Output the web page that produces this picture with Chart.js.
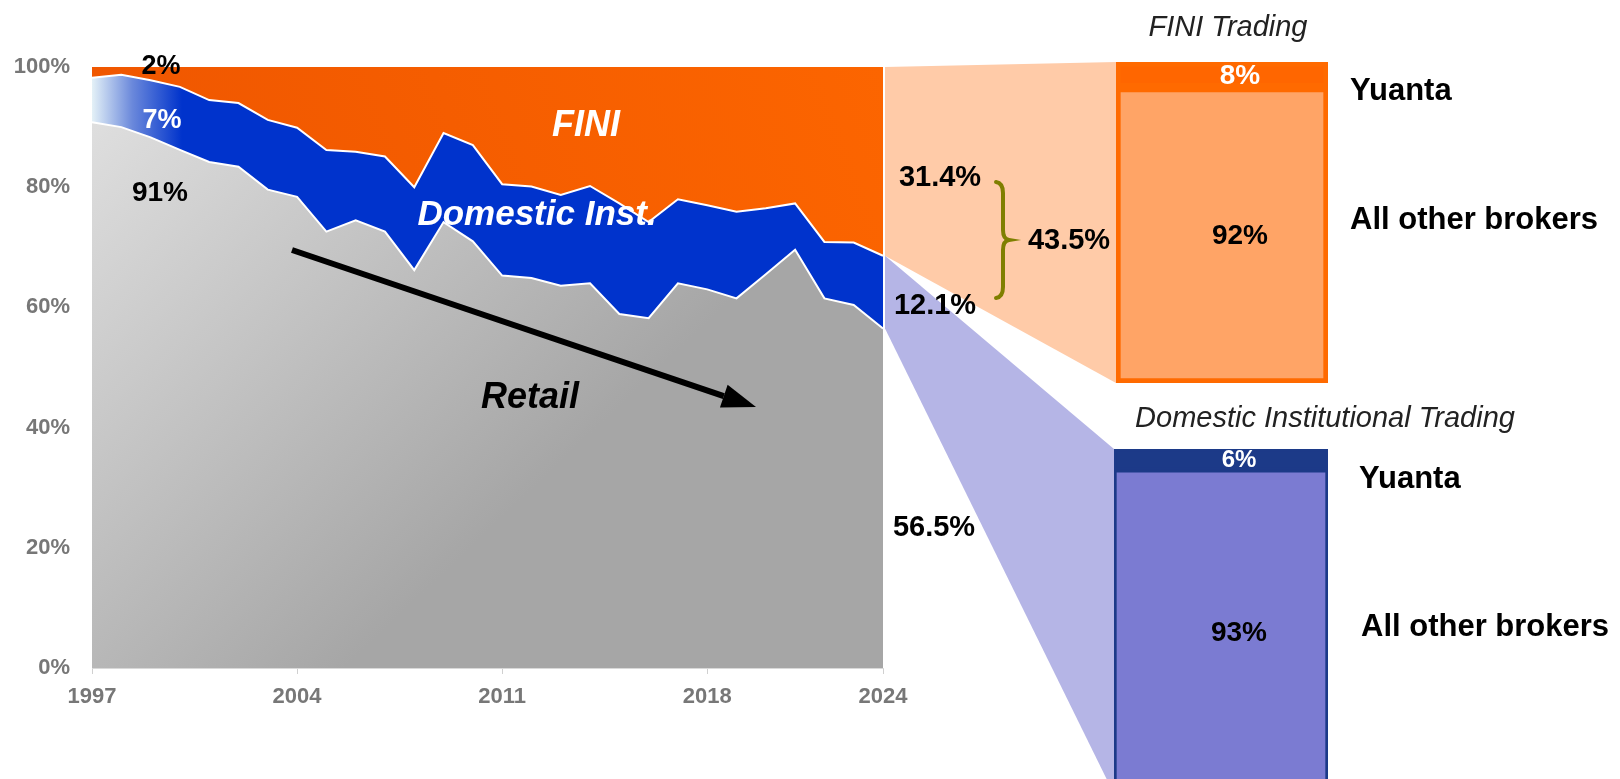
<!DOCTYPE html>
<html>
<head>
<meta charset="utf-8">
<script src="https://cdn.jsdelivr.net/npm/chart.js@4.4.1/dist/chart.umd.min.js"></script>
<style>
  html, body { margin: 0; padding: 0; background: #fff; overflow: hidden; }
  #wrap { position: relative; width: 1620px; height: 779px; }
  canvas { position: absolute; }
  #main { left: 0; top: 0; }
  #finiBox { left: 1116px; top: 62px; }
  #domBox { left: 1114px; top: 449px; }
</style>
</head>
<body>
<div id="wrap">
  <canvas id="main" width="1620" height="779"></canvas>
  <canvas id="finiBox" width="212" height="321"></canvas>
  <canvas id="domBox" width="214" height="345"></canvas>
</div>
<script>
// market turnover share by investor type, 1997-2024 (%)
const years = ['1997', '1998', '1999', '2000', '2001', '2002', '2003', '2004', '2005', '2006',
  '2007', '2008', '2009', '2010', '2011', '2012', '2013', '2014', '2015', '2016',
  '2017', '2018', '2019', '2020', '2021', '2022', '2023', '2024'];
const retail = [90.8, 90.0, 88.3, 86.2, 84.2, 83.4, 79.6, 78.4, 72.6, 74.5,
  72.6, 66.2, 74.2, 71.0, 65.3, 64.9, 63.6, 64.0, 58.9, 58.2,
  64.0, 63.0, 61.5, 65.5, 69.6, 61.5, 60.4, 56.5];
const domestic = [7.4, 8.7, 9.5, 10.5, 10.3, 10.6, 11.6, 11.5, 13.6, 11.4,
  12.5, 13.8, 14.8, 16.0, 15.2, 15.2, 15.1, 16.2, 18.4, 16.0,
  14.0, 14.0, 14.4, 11.0, 7.7, 9.4, 10.4, 12.1];
const fini = [1.8, 1.3, 2.2, 3.3, 5.5, 6.0, 8.8, 10.1, 13.8, 14.1,
  14.9, 20.0, 11.0, 13.0, 19.5, 19.9, 21.3, 19.8, 22.7, 25.8,
  22.0, 23.0, 24.1, 23.5, 22.7, 29.1, 29.2, 31.4];
const yTicks = [0, 20, 40, 60, 80, 100];
const shownYears = ['1997', '2004', '2011', '2018', '2024'];

// broker split of 2024 trading
const brokers = ['All other brokers', 'Yuanta'];
const finiShares = [92, 8];
const domShares = [93, 6];

const FONT = "'Liberation Sans', Arial, sans-serif";
Chart.defaults.font.family = FONT;

function retailFill(ctx) {
  const a = ctx.chart.chartArea;
  if (!a) return '#b0b0b0';
  const g = ctx.chart.ctx.createLinearGradient(a.left, a.top + 60, a.left + 390, a.top + 470);
  g.addColorStop(0, '#dedede');
  g.addColorStop(1, '#a6a6a6');
  return g;
}
function domesticFill(ctx) {
  const a = ctx.chart.chartArea;
  if (!a) return '#0033cc';
  const g = ctx.chart.ctx.createLinearGradient(a.left, 0, a.left + 90, 0);
  g.addColorStop(0, '#e4f1f7');
  g.addColorStop(0.45, '#6a88db');
  g.addColorStop(1, '#0033cc');
  return g;
}
function finiFill(ctx) {
  const a = ctx.chart.chartArea;
  if (!a) return '#f55b00';
  const g = ctx.chart.ctx.createLinearGradient(a.left, a.top + 300, a.right, a.top);
  g.addColorStop(0, '#ee5500');
  g.addColorStop(1, '#fc6500');
  return g;
}

// value labels inside the broker boxes
const shareLabels = {
  id: 'shareLabels',
  afterDatasetsDraw(chart) {
    const c = chart.ctx;
    c.save();
    c.textAlign = 'center';
    c.textBaseline = 'middle';
    chart.data.datasets.forEach((ds, i) => {
      const bar = chart.getDatasetMeta(i).data[0];
      const h = bar.base - bar.y;
      c.font = 'bold ' + Math.min(28, Math.round(h) + 3) + 'px ' + FONT;
      c.fillStyle = ds.labelColor;
      c.fillText(ds.data[0] + '%', bar.x + 18, (bar.y + bar.base) / 2 + 1);
    });
    c.restore();
  }
};

function boxChart(id, shares, fills, edge, edgeWidth, textColors) {
  const total = shares.reduce((s, v) => s + v, 0);
  return new Chart(document.getElementById(id), {
    type: 'bar',
    data: {
      labels: [''],
      datasets: shares.map((v, i) => ({
        label: brokers[i],
        data: [v],
        backgroundColor: fills[i],
        borderColor: edge,
        borderWidth: edgeWidth,
        borderSkipped: false,
        barPercentage: 1,
        categoryPercentage: 1,
        labelColor: textColors[i]
      }))
    },
    options: {
      responsive: false,
      animation: false,
      events: [],
      layout: { padding: 0 },
      plugins: { legend: { display: false }, tooltip: { enabled: false } },
      scales: {
        x: { stacked: true, display: false },
        y: { stacked: true, display: false, min: 0, max: total }
      }
    },
    plugins: [shareLabels]
  });
}

const finiChart = boxChart('finiBox', finiShares, ['#ffa466', '#ff6600'], '#ff6a00', 5, ['#000', '#fff']);
const domChart = boxChart('domBox', domShares, ['#7b7bd2', '#1c3a88'], '#1c3a88', 3, ['#000', '#fff']);

function boxRect(chart) {
  const bottom = chart.getDatasetMeta(0).data[0];
  const top = chart.getDatasetMeta(chart.data.datasets.length - 1).data[0];
  const ox = chart.canvas.offsetLeft, oy = chart.canvas.offsetTop;
  return {
    left: ox + bottom.x - bottom.width / 2,
    top: oy + top.y,
    bottom: oy + bottom.base
  };
}

function text(c, str, x, y, font, color, align) {
  c.font = font;
  c.fillStyle = color;
  c.textAlign = align || 'center';
  c.textBaseline = 'alphabetic';
  c.fillText(str, x, y);
}

const overlay = {
  id: 'overlay',
  beforeDatasetsDraw(chart) {
    const c = chart.ctx;
    const a = chart.chartArea;
    const last = years.length - 1;
    const retailTop = chart.getDatasetMeta(0).data[last].y;
    const domTop = chart.getDatasetMeta(1).data[last].y;
    const finiTop = chart.getDatasetMeta(2).data[last].y;
    const fb = boxRect(finiChart);
    const db = boxRect(domChart);
    const x0 = a.right + 2;
    c.save();
    // FINI funnel
    c.fillStyle = '#ffcba8';
    c.beginPath();
    c.moveTo(x0, finiTop);
    c.lineTo(fb.left, fb.top);
    c.lineTo(fb.left, fb.bottom);
    c.lineTo(x0, domTop);
    c.closePath();
    c.fill();
    // domestic funnel
    c.fillStyle = '#b5b5e6';
    c.beginPath();
    c.moveTo(x0, domTop);
    c.lineTo(db.left, db.top);
    c.lineTo(db.left, db.bottom);
    c.lineTo(x0, retailTop);
    c.closePath();
    c.fill();
    c.restore();
  },
  afterDraw(chart) {
    const c = chart.ctx;
    c.save();
    // series labels
    text(c, '2%', 161, 74, 'bold 27px ' + FONT, '#000');
    text(c, '7%', 162, 128, 'bold 27px ' + FONT, '#fff');
    text(c, '91%', 160, 201, 'bold 28px ' + FONT, '#000');
    text(c, 'FINI', 586, 136, 'italic bold 36px ' + FONT, '#fff');
    text(c, 'Domestic Inst.', 537, 225, 'italic bold 35px ' + FONT, '#fff');
    text(c, 'Retail', 530, 408, 'italic bold 36px ' + FONT, '#000');

    // retail trend arrow
    const sx = 292, sy = 250, ex = 756, ey = 407;
    const ang = Math.atan2(ey - sy, ex - sx);
    const hl = 34, hw = 12;
    const bx = ex - hl * Math.cos(ang), by = ey - hl * Math.sin(ang);
    c.strokeStyle = '#000';
    c.lineWidth = 6;
    c.beginPath();
    c.moveTo(sx, sy);
    c.lineTo(bx, by);
    c.stroke();
    c.fillStyle = '#000';
    c.beginPath();
    c.moveTo(ex, ey);
    c.lineTo(bx - hw * Math.sin(ang), by + hw * Math.cos(ang));
    c.lineTo(bx + hw * Math.sin(ang), by - hw * Math.cos(ang));
    c.closePath();
    c.fill();

    // 2024 shares
    const f = 'bold 29px ' + FONT;
    text(c, '31.4%', 940, 186, f, '#000');
    text(c, '12.1%', 935, 314, f, '#000');
    text(c, '56.5%', 934, 536, f, '#000');
    text(c, '43.5%', 1069, 249, f, '#000');

    // brace
    c.strokeStyle = '#7f7f00';
    c.lineWidth = 4;
    c.lineCap = 'round';
    c.beginPath();
    c.moveTo(996, 182);
    c.quadraticCurveTo(1003, 183, 1003, 193);
    c.lineTo(1003, 230);
    c.quadraticCurveTo(1003, 239, 1009, 240);
    c.quadraticCurveTo(1003, 241, 1003, 250);
    c.lineTo(1003, 287);
    c.quadraticCurveTo(1003, 297, 996, 298);
    c.stroke();

    // right panel titles and broker names
    text(c, 'FINI Trading', 1228, 36, 'italic 29px ' + FONT, '#222');
    text(c, 'Domestic Institutional Trading', 1325, 427, 'italic 29px ' + FONT, '#222');
    const b = 'bold 31px ' + FONT;
    text(c, 'Yuanta', 1350, 100, b, '#000', 'left');
    text(c, 'All other brokers', 1350, 229, b, '#000', 'left');
    text(c, 'Yuanta', 1359, 488, b, '#000', 'left');
    text(c, 'All other brokers', 1361, 636, b, '#000', 'left');
    c.restore();
  }
};

const tickFont = { family: FONT, size: 22, weight: 'bold' };

new Chart(document.getElementById('main'), {
  type: 'line',
  data: {
    labels: years,
    datasets: [
      { label: 'Retail', data: retail, fill: 'origin', backgroundColor: retailFill,
        borderColor: '#ffffff', borderWidth: 2 },
      { label: 'Domestic Inst.', data: domestic, fill: '-1', backgroundColor: domesticFill,
        borderColor: '#ffffff', borderWidth: 2 },
      { label: 'FINI', data: fini, fill: '-1', backgroundColor: finiFill,
        borderColor: 'rgba(0,0,0,0)', borderWidth: 0 }
    ]
  },
  options: {
    responsive: false,
    animation: false,
    events: [],
    layout: { padding: { left: 0, top: 67, right: 737, bottom: 61 } },
    elements: { point: { radius: 0 }, line: { tension: 0 } },
    plugins: { legend: { display: false }, tooltip: { enabled: false } },
    scales: {
      x: {
        ticks: {
          autoSkip: false,
          maxRotation: 0,
          color: '#777777',
          font: tickFont,
          padding: 10,
          callback: (v, i) => shownYears.includes(years[i]) ? years[i] : ''
        },
        grid: {
          drawOnChartArea: false,
          drawTicks: true,
          tickLength: 6,
          color: ctx => (ctx.tick && shownYears.includes(years[ctx.index])) ? '#d0d0d0' : 'rgba(0,0,0,0)'
        },
        border: { color: '#d9d9d9', width: 1 },
        afterFit(s) { s.height = 50; }
      },
      y: {
        stacked: true,
        min: 0,
        max: 100,
        afterBuildTicks(s) { s.ticks = yTicks.map(v => ({ value: v })); },
        ticks: { color: '#777777', font: tickFont, padding: 22, callback: v => v + '%' },
        grid: { display: false, drawTicks: false },
        border: { display: false },
        afterFit(s) { s.width = 92; }
      }
    }
  },
  plugins: [overlay]
});
</script>
</body>
</html>
